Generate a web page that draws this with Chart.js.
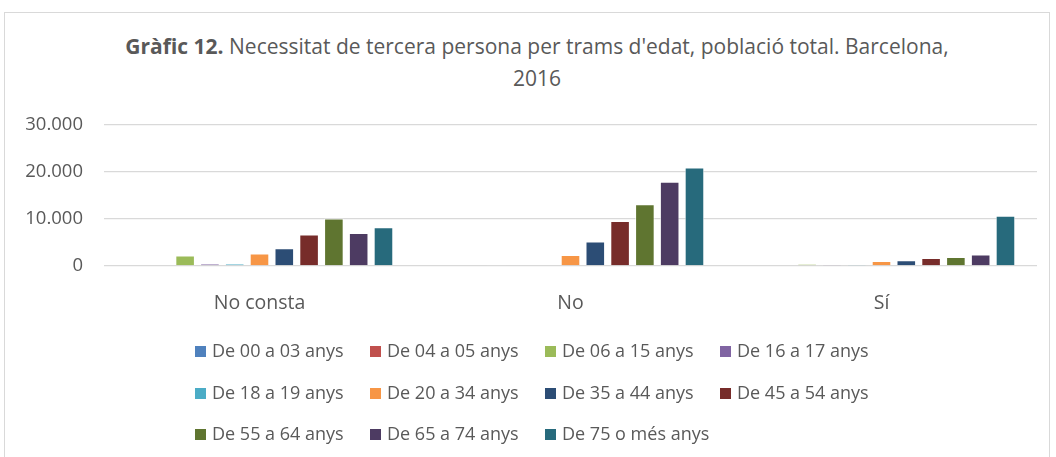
<!DOCTYPE html>
<html>
<head>
<meta charset="utf-8">
<script src="https://cdn.jsdelivr.net/npm/chart.js@4"></script>
<style>
  html, body { margin: 0; padding: 0; background: #fff; }
  body { width: 1056px; height: 457px; position: relative; overflow: hidden; font-family: "Open Sans", sans-serif; color: #595959; }
  #marc { position: absolute; left: 4px; top: 12px; width: 1046px; height: 460px; border: 1px solid #d9d9d9; box-sizing: border-box; }
  #titol { position: absolute; left: 0; width: 1074px; top: 30px; text-align: center; font-size: 21px; line-height: 32px; }
  #grafic { position: absolute; left: 0; top: 0; }
  #llegenda { position: absolute; left: 0; top: 0; font-size: 18px; }
  .item { position: absolute; white-space: nowrap; height: 20px; line-height: 20px; }
  .caixa { display: inline-block; width: 11px; height: 11px; margin-right: 6px; vertical-align: 0px; }
</style>
</head>
<body>
<div id="marc"></div>
<div id="titol"><b>Gràfic 12.</b> Necessitat de tercera persona per trams d'edat, població total. Barcelona,<br>2016</div>
<canvas id="grafic" width="1056" height="457"></canvas>
<div id="llegenda"></div>

<script>
// categories (eix X)
const categories = ["No consta", "No", "Sí"];

// trams d'edat (sèries)
const trams = [
  "De 00 a 03 anys", "De 04 a 05 anys", "De 06 a 15 anys", "De 16 a 17 anys",
  "De 18 a 19 anys", "De 20 a 34 anys", "De 35 a 44 anys", "De 45 a 54 anys",
  "De 55 a 64 anys", "De 65 a 74 anys", "De 75 o més anys"
];

// valors per tram: [No consta, No, Sí]
const de00a03 = [150, 0, 0];
const de04a05 = [150, 0, 0];
const de06a15 = [2250, 200, 420];
const de16a17 = [500, 0, 100];
const de18a19 = [450, 0, 100];
const de20a34 = [2670, 2320, 1050];
const de35a44 = [3800, 5200, 1200];
const de45a54 = [6680, 9560, 1690];
const de55a64 = [10130, 13150, 1900];
const de65a74 = [7030, 17930, 2460];
const de75mes = [8230, 20950, 10690];

const valors = [de00a03, de04a05, de06a15, de16a17, de18a19, de20a34, de35a44, de45a54, de55a64, de65a74, de75mes];

const colors = ["#4F81BD", "#C0504D", "#9BBB59", "#8064A2", "#4BACC6", "#F79646",
                "#2C4D75", "#772C2A", "#5F7530", "#4D3B62", "#276A7C"];

// ticks eix Y
const yMin = 0;
const yMax = 30000;
const yPas = 10000;

const fontBase = "'Open Sans', sans-serif";

// llegenda en HTML (4 columnes, alineada a l'esquerra com a Excel)
const llegendaHtml = {
  id: "llegendaHtml",
  afterUpdate(chart) {
    const cont = document.getElementById("llegenda");
    cont.innerHTML = "";
    chart.data.datasets.forEach((ds, i) => {
      const col = i % 4;
      const fila = Math.floor(i / 4);
      const el = document.createElement("div");
      el.className = "item";
      el.style.left = (195 + col * 175) + "px";
      el.style.top = (340 + fila * 41.5) + "px";
      el.innerHTML = `<span class="caixa" style="background:${ds.backgroundColor}"></span>${ds.label}`;
      cont.appendChild(el);
    });
  }
};

const ctx = document.getElementById("grafic");

new Chart(ctx, {
  type: "bar",
  data: {
    labels: categories,
    datasets: trams.map((t, i) => ({
      label: t,
      data: valors[i],
      backgroundColor: colors[i],
      borderColor: "rgba(255,255,255,0.7)",
      borderWidth: 1,
      barPercentage: 0.79,
      categoryPercentage: 0.877,
    })),
  },
  options: {
    responsive: false,
    animation: false,
    layout: { padding: { top: 125, right: 19, left: 0, bottom: 0 } },
    plugins: {
      legend: { display: false },
      title: { display: false },
      tooltip: { enabled: false },
    },
    scales: {
      x: {
        grid: { display: false },
        border: { display: false },
        ticks: { color: "#595959", font: { family: fontBase, size: 19.5 }, padding: 18 },
        afterFit(scale) { scale.height = 191; },
      },
      y: {
        min: yMin,
        max: yMax,
        grid: { color: "#d9d9d9", lineWidth: 1.3, drawTicks: false },
        border: { display: false },
        ticks: {
          stepSize: yPas,
          padding: 21,
          color: "#595959",
          font: { family: fontBase, size: 18.5 },
          callback: (v) => v.toLocaleString("de-DE"),
        },
        afterFit(scale) { scale.width = 104; },
      },
    },
  },
  plugins: [llegendaHtml],
});
</script>
</body>
</html>
